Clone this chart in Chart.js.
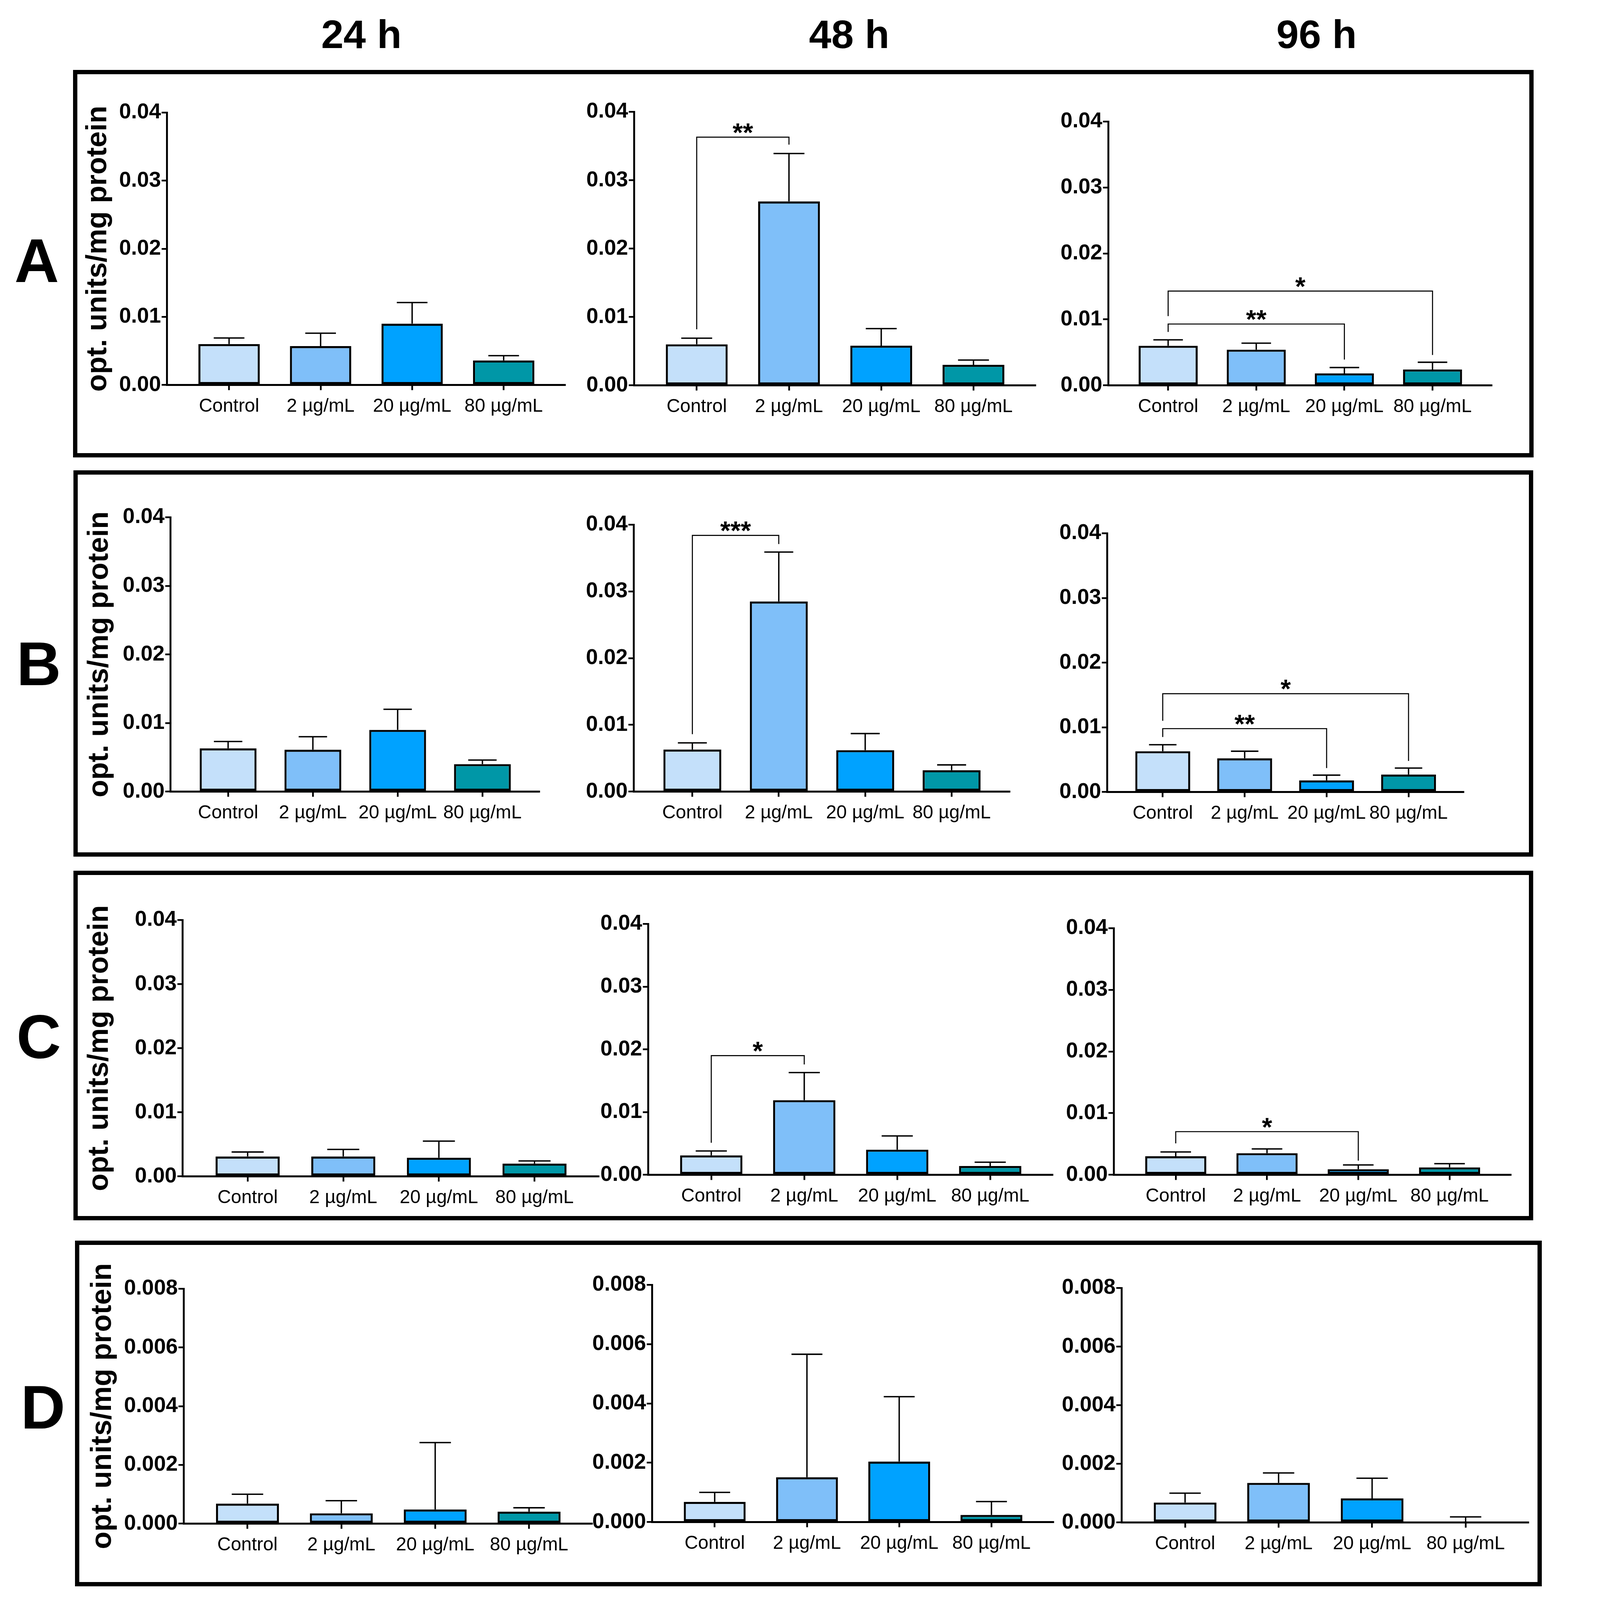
<!DOCTYPE html>
<html>
<head>
<meta charset="utf-8">
<script src="https://cdn.jsdelivr.net/npm/chart.js@4.4.1/dist/chart.umd.min.js"></script>
<style>
  html, body { margin: 0; padding: 0; background: #fff; overflow: hidden; }
  #page { position: relative; background: #fff; overflow: hidden; font-family: "Liberation Sans", Arial, sans-serif; }
  .box { position: absolute; border-style: solid; border-color: #000; box-sizing: border-box; }
  .lbl { position: absolute; font-weight: bold; line-height: 1; text-align: center; color: #000; white-space: nowrap; }
  canvas { position: absolute; }
</style>
</head>
<body>
<div id="page"></div>
<script>
// data
const categories = ['Control', '2 µg/mL', '20 µg/mL', '80 µg/mL'];
const timePoints = ['24 h', '48 h', '96 h'];
const panelLetters = ['A', 'B', 'C', 'D'];
const barColors = ['#c4e0fa', '#7fbff9', '#00a2ff', '#0097a7'];

// mean per group, one row per time point (24 h, 48 h, 96 h)
const meansA = [[0.0060, 0.0057, 0.0090, 0.0036], [0.0060, 0.0269, 0.0058, 0.0030], [0.0060, 0.0054, 0.0018, 0.0024]];
const meansB = [[0.0063, 0.0061, 0.0090, 0.0040], [0.0063, 0.0285, 0.0062, 0.0032], [0.0063, 0.0052, 0.0018, 0.0027]];
const meansC = [[0.0031, 0.0031, 0.0029, 0.0020], [0.0031, 0.0119, 0.0040, 0.0014], [0.0030, 0.0035, 0.0009, 0.0012]];
const meansD = [[0.00068, 0.00035, 0.00048, 0.00041], [0.00068, 0.00151, 0.00204, 0.00024], [0.00068, 0.00135, 0.00082, 0.0]];

// upper error (SD) per group
const errorsA = [[0.0009, 0.0019, 0.0031, 0.0007], [0.0009, 0.0070, 0.0025, 0.0007], [0.0009, 0.0010, 0.0009, 0.0011]];
const errorsB = [[0.0010, 0.0019, 0.0030, 0.0006], [0.0010, 0.0074, 0.0025, 0.0008], [0.0010, 0.0011, 0.0008, 0.0010]];
const errorsC = [[0.0007, 0.0011, 0.0026, 0.0004], [0.0007, 0.0044, 0.0022, 0.0006], [0.0007, 0.0007, 0.0007, 0.0006]];
const errorsD = [[0.00032, 0.00043, 0.00228, 0.00013], [0.00032, 0.00415, 0.00219, 0.00045], [0.00032, 0.00034, 0.00069, 0.00019]];

// significance brackets: [from, to, level, left leg end, right leg end, label]
const bracketsA = [[], [[0, 1, 0.0363, 0.0082, 0.0352, '**']], [[0, 2, 0.0093, 0.0081, 0.0039, '**'], [0, 3, 0.0143, 0.0105, 0.0046, '*']]];
const bracketsB = [[], [[0, 1, 0.0384, 0.0086, 0.0371, '***']], [[0, 2, 0.0098, 0.0085, 0.0037, '**'], [0, 3, 0.0152, 0.0110, 0.0048, '*']]];
const bracketsC = [[], [[0, 1, 0.0190, 0.0051, 0.0176, '*']], [[0, 2, 0.0070, 0.0051, 0.0023, '*']]];
const bracketsD = [[], [], []];

// y axis ticks per panel row
const yMaxes = [0.04, 0.04, 0.04, 0.008];
const ySteps = [0.01, 0.01, 0.01, 0.002];
const yDecimals = [2, 2, 2, 3];
const yTitle = 'opt. units/mg protein';

const means = [meansA, meansB, meansC, meansD];
const errors = [errorsA, errorsB, errorsC, errorsD];
const brackets = [bracketsA, bracketsB, bracketsC, bracketsD];

// page layout in reference pixels (4478 x 4618): y-axis x, top of axis, zero line, right end of x axis
const plotBoxes = [
  [[482, 325, 1111, 1631], [1830, 323, 1112, 2988], [3198, 351, 1112, 4304]],
  [[492, 1493, 2285, 1556], [1829, 1515, 2285, 2914], [3195, 1539, 2285, 4224]],
  [[527, 2655, 3395, 1728], [1870, 2667, 3391, 3037], [3214, 2679, 3391, 4360]],
  [[530, 3720, 4398, 1709], [1882, 3709, 4394, 3040], [3237, 3717, 4394, 4411]]
];
const titleCenters = [285, 289, 289, 298];
const panelBoxes = [[211, 202, 4426, 1320], [212, 1358, 4425, 2472], [212, 2513, 4425, 3522], [217, 3581, 4450, 4578]];
const letterPos = [[106, 751], [112, 1915], [112, 2990], [124, 4060]];
const headerX = [1043, 2451, 3800];

// fit the reference size into the actual viewport
const S = Math.min(window.innerWidth / 4478, window.innerHeight / 4618);
const k = v => v * S;

const FONT = '"Liberation Sans", Arial, sans-serif';
const page = document.getElementById('page');
page.style.width = k(4478) + 'px';
page.style.height = k(4618) + 'px';

function addLabel(text, cx, cy, size) {
  const d = document.createElement('div');
  d.className = 'lbl';
  d.textContent = text;
  d.style.fontSize = k(size) + 'px';
  d.style.left = k(cx - 400) + 'px';
  d.style.width = k(800) + 'px';
  d.style.top = k(cy - 0.49 * size) + 'px';
  page.appendChild(d);
}

timePoints.forEach((t, c) => addLabel(t, headerX[c], 99, 116));

panelBoxes.forEach(([l, t, r, b], i) => {
  const d = document.createElement('div');
  d.className = 'box';
  d.style.borderWidth = k(13) + 'px';
  d.style.left = k(l) + 'px'; d.style.top = k(t) + 'px';
  d.style.width = k(r - l) + 'px'; d.style.height = k(b - t) + 'px';
  page.appendChild(d);
  addLabel(panelLetters[i], letterPos[i][0], letterPos[i][1], 178);
});

function errorPlugin(m, e, br) {
  return {
    id: 'errorBars',
    afterDatasetsDraw(chart) {
      const {ctx, scales: {x, y}} = chart;
      const meta = chart.getDatasetMeta(0);
      ctx.save();
      ctx.strokeStyle = '#000';
      ctx.lineWidth = k(4);
      e.forEach((err, i) => {
        const px = x.getPixelForValue(i);
        const y0 = y.getPixelForValue(m[i]);
        const y1 = y.getPixelForValue(m[i] + err);
        const half = meta.data[i].width / 4;
        ctx.beginPath();
        ctx.moveTo(px, y0); ctx.lineTo(px, y1);
        ctx.moveTo(px - half, y1); ctx.lineTo(px + half, y1);
        ctx.stroke();
      });
      ctx.lineWidth = k(3);
      ctx.fillStyle = '#000';
      ctx.font = 'bold ' + k(76) + 'px ' + FONT;
      ctx.textAlign = 'center';
      ctx.textBaseline = 'alphabetic';
      br.forEach(([a, b, lvl, la, lb, txt]) => {
        const xa = x.getPixelForValue(a), xb = x.getPixelForValue(b);
        const yl = y.getPixelForValue(lvl);
        ctx.beginPath();
        ctx.moveTo(xa, y.getPixelForValue(la));
        ctx.lineTo(xa, yl);
        ctx.lineTo(xb, yl);
        ctx.lineTo(xb, y.getPixelForValue(lb));
        ctx.stroke();
        ctx.fillText(txt, (xa + xb) / 2, yl + k(12));
      });
      ctx.restore();
    }
  };
}

const PAD_TOP = 130, PAD_RIGHT = 30, X_H = 110;

panelLetters.forEach((letter, r) => {
  timePoints.forEach((tp, c) => {
    const [axisX, top, bottom, right] = plotBoxes[r][c];
    const yW = c === 0 ? axisX - titleCenters[r] + 50 : 230;
    const left = axisX - yW;
    const w = right - left + PAD_RIGHT;
    const h = bottom - top + PAD_TOP + X_H;

    const cv = document.createElement('canvas');
    cv.width = Math.round(k(w)); cv.height = Math.round(k(h));
    cv.style.left = k(left) + 'px';
    cv.style.top = k(top - PAD_TOP) + 'px';
    page.appendChild(cv);

    const m = means[r][c], e = errors[r][c];
    new Chart(cv, {
      type: 'bar',
      data: {
        datasets: [{
          data: m.map((v, i) => ({x: i, y: v})),
          backgroundColor: barColors,
          borderColor: '#000',
          borderWidth: k(6),
          borderSkipped: false,
          categoryPercentage: 1,
          barPercentage: 0.67
        }]
      },
      options: {
        responsive: false,
        animation: false,
        layout: {padding: {top: k(PAD_TOP), right: k(PAD_RIGHT), left: 0, bottom: 0}},
        plugins: {legend: {display: false}, tooltip: {enabled: false}},
        scales: {
          x: {
            type: 'linear',
            min: -0.68,
            max: 3.67,
            offset: false,
            afterBuildTicks: s => { s.ticks = categories.map((_, i) => ({value: i})); },
            afterFit: s => { s.height = k(X_H); },
            border: {color: '#000', width: k(5.5)},
            grid: {display: true, drawOnChartArea: false, drawTicks: true, tickLength: k(15), tickWidth: k(5), lineWidth: k(5), tickColor: '#000', offset: false},
            ticks: {
              autoSkip: false, maxRotation: 0, minRotation: 0, padding: k(15),
              color: '#000', font: {family: FONT, size: k(54)},
              callback: v => categories[v]
            }
          },
          y: {
            min: 0,
            max: yMaxes[r],
            afterFit: s => { s.width = k(yW); },
            border: {color: '#000', width: k(5.5)},
            grid: {display: true, drawOnChartArea: false, drawTicks: true, tickLength: k(15), tickWidth: k(5), lineWidth: k(5), tickColor: '#000'},
            ticks: {
              stepSize: ySteps[r], padding: k(2),
              color: '#000', font: {family: FONT, size: k(62), weight: 'bold'},
              callback: v => v.toFixed(yDecimals[r])
            },
            title: {
              display: c === 0,
              text: yTitle,
              color: '#000',
              padding: 0,
              font: {family: FONT, size: k(83), weight: 'bold'}
            }
          }
        }
      },
      plugins: [errorPlugin(m, e, brackets[r][c])]
    });
  });
});
</script>
</body>
</html>
